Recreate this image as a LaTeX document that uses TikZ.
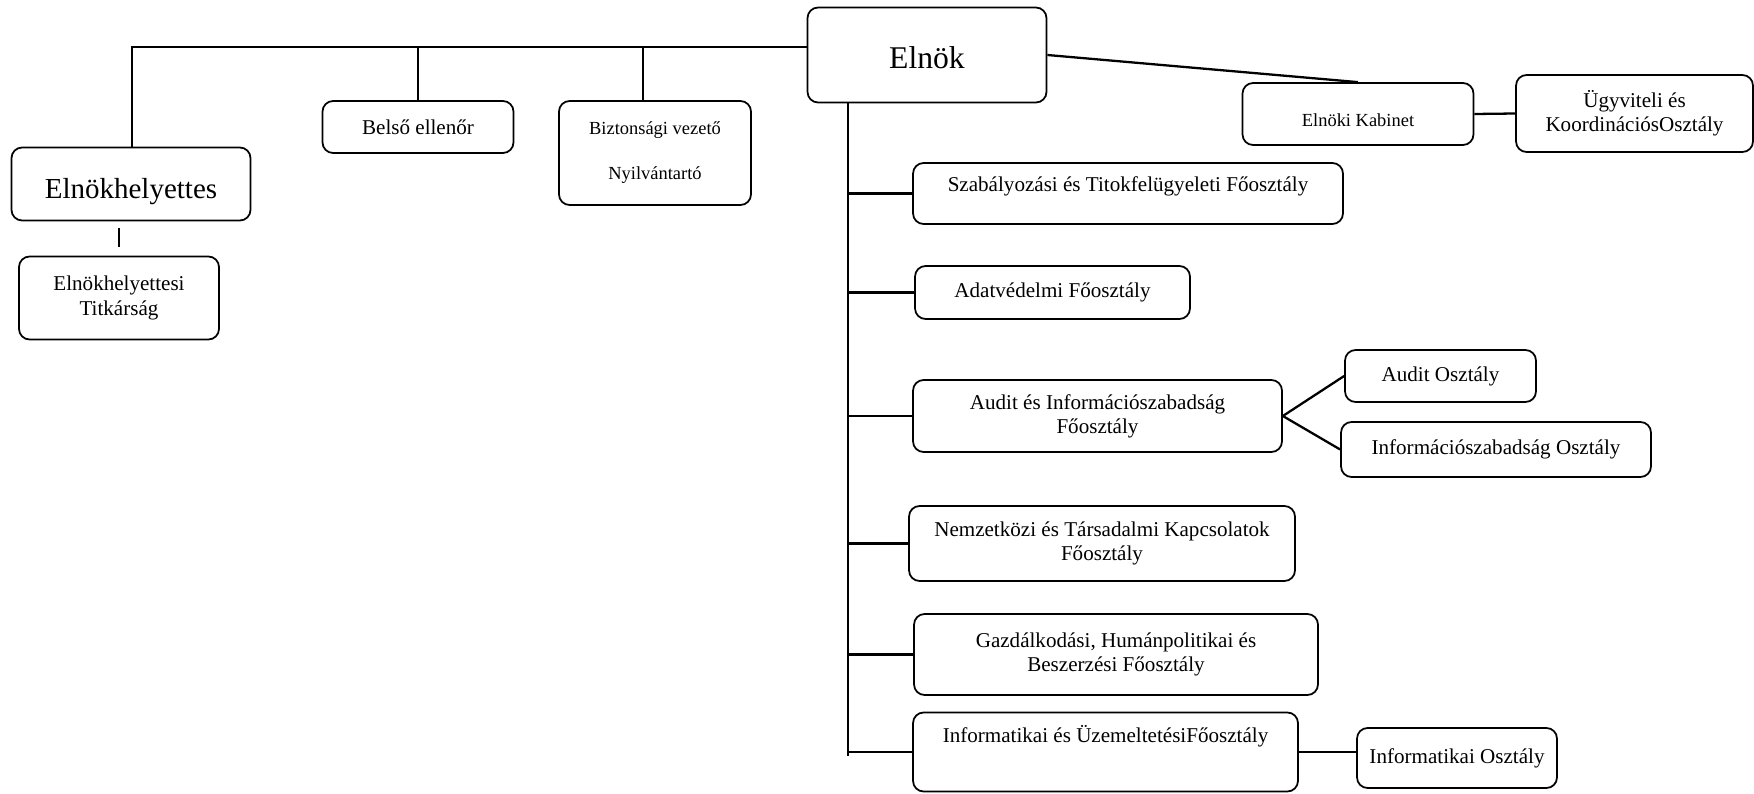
\documentclass[tikz,border=0pt]{standalone}
\usepackage{fontspec}
\setmainfont{Liberation Serif}
\usepackage{tikz}
\usetikzlibrary{positioning}
\tikzset{
  unit/.style = {draw, line width=1pt, rounded corners=6pt, rectangle, inner sep=3pt, align=center, font=\fontsize{12}{13.8}\selectfont},
  small/.style = {unit, font=\fontsize{10.5}{12.6}\selectfont},
  sz/.style 2 args = {minimum width=#1cm, minimum height=#2cm},
  link/.style = {line width=1.3pt}
}
\begin{document}
\begin{tikzpicture}[x=0.02cm, y=-0.02cm]
  \useasboundingbox (0,0) rectangle (1754,794);
  % top of the chart
  \node[unit, sz={4.78}{1.90}, font=\fontsize{18}{21}\selectfont, text height=16pt] (elnok) at (927,55) {Elnök};
  \node[unit, sz={4.78}{1.46}, font=\fontsize{16.5}{19}\selectfont, text height=21pt, text depth=4pt] (hely) at (131,184) {Elnökhelyettes};
  \node[unit, sz={4.00}{1.66}] (titk) at (119,298) {Elnökhelyettesi\\Titkárság};
  \node[unit, sz={3.82}{1.04}] (bels) at (418,127) {Belső ellenőr};
  \node[small, sz={3.84}{2.08}] (bizt) at (655,153) {Biztonsági vezető\\[13pt]Nyilvántartó};
  \node[small, sz={4.62}{1.24}, text height=17.5pt, text depth=3pt] (kab) at (1358,114) {Elnöki Kabinet};
  \node[unit, sz={4.74}{1.54}] (ugyv) at (1634.5,113.5) {Ügyviteli és\\KoordinációsOsztály};
  % departments
  \node[unit, sz={8.60}{1.22}, text height=12pt, text depth=14.7pt] (szab) at (1128,193.5) {Szabályozási és Titokfelügyeleti Főosztály};
  \node[unit, sz={5.50}{1.06}] (adat) at (1052.5,292.5) {Adatvédelmi Főosztály};
  \node[unit, sz={7.38}{1.44}] (audf) at (1097.5,416) {Audit és Információszabadság\\Főosztály};
  \node[unit, sz={3.82}{1.04}] (auditoszt) at (1440.5,376) {Audit Osztály};
  \node[unit, sz={6.20}{1.10}] (infszoszt) at (1496,449.5) {Információszabadság Osztály};
  \node[unit, sz={7.72}{1.50}] (nemz) at (1102,543.5) {Nemzetközi és Társadalmi Kapcsolatok\\Főosztály};
  \node[unit, sz={8.08}{1.62}] (gazd) at (1116,654.5) {Gazdálkodási, Humánpolitikai és\\Beszerzési Főosztály};
  \node[unit, sz={7.70}{1.58}, text height=13pt, text depth=24pt] (inff) at (1105.5,752) {Informatikai és ÜzemeltetésiFőosztály};
  \node[unit, sz={4.00}{1.20}] (infoszt) at (1457,758) {Informatikai Osztály};
  % connectors
  \coordinate (bus) at (132,47);
  \coordinate (trunk) at (848,756);
  \draw[link] (elnok.west |- bus) -- (bus) -- (bus |- hely.north);
  \draw[link] (bels.north) -- (bels.north |- bus);
  \draw[link] ([xshift=-0.24cm]bizt.north) -- ([xshift=-0.24cm]bizt.north |- bus);
  \draw[link, line width=1pt, shorten <=0.14cm, shorten >=0.18cm] (titk.north |- hely.south) -- (titk.north);
  \draw[link] (elnok.east) -- (kab.north);
  \draw[link] (kab.east) -- (ugyv.west);
  \draw[link, line width=1.5pt] (trunk |- elnok.south) -- (trunk);
  \draw[link] (szab.west) -- (szab.west -| trunk);
  \draw[link] (adat.west) -- (adat.west -| trunk);
  \draw[link] (audf.west) -- (audf.west -| trunk);
  \draw[link] (nemz.west) -- (nemz.west -| trunk);
  \draw[link] (gazd.west) -- (gazd.west -| trunk);
  \draw[link] (inff.west) -- (inff.west -| trunk);
  \draw[link] (audf.east) -- (auditoszt.west);
  \draw[link] (audf.east) -- (infszoszt.west);
  \draw[link] (inff.east) -- (inff.east -| infoszt.west);
\end{tikzpicture}
\end{document}
